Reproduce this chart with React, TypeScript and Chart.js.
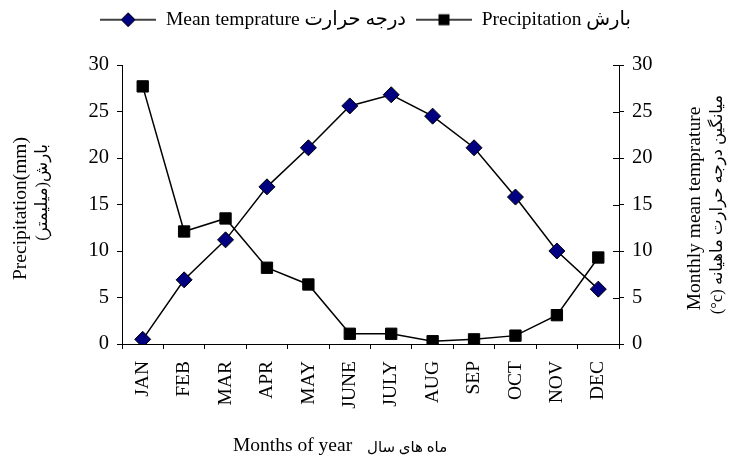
import React, { useEffect, useRef } from 'react';
import { Chart, registerables } from 'chart.js';

Chart.register(...registerables);

const months = ['JAN', 'FEB', 'MAR', 'APR', 'MAY', 'JUNE', 'JULY', 'AUG', 'SEP', 'OCT', 'NOV', 'DEC'];
const meanTemperature = [0.5, 6.9, 11.2, 16.9, 21.1, 25.6, 26.8, 24.5, 21.1, 15.8, 10.0, 5.9];
const precipitation = [27.7, 12.1, 13.5, 8.2, 6.4, 1.1, 1.1, 0.3, 0.5, 0.9, 3.1, 9.3];
const axisMin = 0;
const axisMax = 30;
const axisStep = 5;
const legendLabels = ['Mean temprature درجه حرارت', 'Precipitation بارش'];
const leftTitle = ['Precipitation(mm)', 'بارش(میلیمتر)\u200F'];
const rightTitle = ['Monthly mean temprature', '(°c) میانگین درجه حرارت ماهیانه'];
const xTitleLatin = 'Months of year';
const xTitlePersian = 'ماه های سال';

const FAMILY = "'Liberation Serif', 'Times New Roman', 'DejaVu Sans', serif";
const FSIZE = 19.5;
const PERSIAN_SIZE = 16.5;
const NAVY = '#000080';

function makeLegendMarker(kind: 'diamond' | 'square'): HTMLCanvasElement {
  const c = document.createElement('canvas');
  c.width = 56;
  c.height = 20;
  const ctx = c.getContext('2d') as CanvasRenderingContext2D;
  ctx.strokeStyle = '#000';
  ctx.lineWidth = 1.5;
  ctx.beginPath();
  ctx.moveTo(0, 10);
  ctx.lineTo(56, 10);
  ctx.stroke();
  if (kind === 'diamond') {
    ctx.beginPath();
    ctx.moveTo(28, 3);
    ctx.lineTo(35, 10);
    ctx.lineTo(28, 17);
    ctx.lineTo(21, 10);
    ctx.closePath();
    ctx.fillStyle = NAVY;
    ctx.fill();
    ctx.lineWidth = 1;
    ctx.stroke();
  } else {
    ctx.fillStyle = '#000';
    ctx.fillRect(22.5, 4.5, 11, 11);
  }
  return c;
}

function drawRotated(ctx: CanvasRenderingContext2D, text: string, x: number, y: number, size: number) {
  ctx.save();
  ctx.font = `${size}px ${FAMILY}`;
  ctx.translate(x, y);
  ctx.rotate(-Math.PI / 2);
  ctx.fillText(text, 0, 0);
  ctx.restore();
}

const extrasPlugin = {
  id: 'extras',
  beforeInit(chart: any) {
    const lg = chart.legend;
    if (lg) {
      const orig = lg.fit.bind(lg);
      lg.fit = function () {
        orig();
        this.height = 65;
      };
    }
  },
  afterDraw(chart: any) {
    const ctx: CanvasRenderingContext2D = chart.ctx;
    const area = chart.chartArea;
    const y1 = chart.scales.y1;
    ctx.save();
    // inner half of the right axis ticks
    ctx.strokeStyle = '#000';
    ctx.lineWidth = 1;
    y1.ticks.forEach((t: any) => {
      const py = Math.round(y1.getPixelForValue(t.value)) + 0.5;
      ctx.beginPath();
      ctx.moveTo(area.right - 6, py);
      ctx.lineTo(area.right, py);
      ctx.stroke();
    });
    ctx.fillStyle = '#000';
    ctx.textAlign = 'center';
    ctx.textBaseline = 'middle';
    const cy = (area.top + area.bottom) / 2;
    // left axis title (two lines)
    drawRotated(ctx, leftTitle[0], area.left - 101, cy + 4, FSIZE);
    drawRotated(ctx, leftTitle[1], area.left - 79, cy - 12, PERSIAN_SIZE);
    // right axis title (two lines)
    drawRotated(ctx, rightTitle[0], area.right + 76, cy + 4, FSIZE);
    drawRotated(ctx, rightTitle[1], area.right + 99, cy, PERSIAN_SIZE);
    // x axis title
    ctx.textAlign = 'left';
    ctx.font = `${FSIZE}px ${FAMILY}`;
    ctx.fillText(xTitleLatin, area.left + 111, 446);
    ctx.font = `15px ${FAMILY}`;
    ctx.fillText(xTitlePersian, area.left + 245, 448);
    ctx.restore();
  },
};

export default function App() {
  const ref = useRef<HTMLCanvasElement | null>(null);
  useEffect(() => {
    if (!ref.current) return;
    const font = { family: FAMILY, size: FSIZE };
    const numFont = { family: FAMILY, size: 20.5 };
    const markers = [makeLegendMarker('diamond'), makeLegendMarker('square')];
    const chart = new Chart(ref.current, {
      type: 'line',
      data: {
        labels: months,
        datasets: [
          {
            label: legendLabels[0],
            data: meanTemperature,
            yAxisID: 'y1',
            borderColor: '#000',
            borderWidth: 1.5,
            tension: 0,
            pointStyle: 'rectRot',
            pointRadius: 8,
            pointBackgroundColor: NAVY,
            pointBorderColor: '#000',
            pointBorderWidth: 1,
            fill: false,
          },
          {
            label: legendLabels[1],
            data: precipitation,
            yAxisID: 'y',
            borderColor: '#000',
            borderWidth: 1.5,
            tension: 0,
            pointStyle: 'rect',
            pointRadius: 8,
            pointBackgroundColor: '#000',
            pointBorderColor: '#000',
            pointBorderWidth: 1,
            fill: false,
          },
        ],
      },
      options: {
        animation: false,
        responsive: true,
        maintainAspectRatio: false,
        layout: { padding: 0 },
        plugins: {
          tooltip: { enabled: false },
          legend: {
            display: true,
            position: 'top',
            labels: {
              font,
              color: '#000',
              usePointStyle: true,
              pointStyleWidth: 56,
              padding: 10,
              generateLabels: (ch: any) =>
                ch.data.datasets.map((ds: any, i: number) => ({
                  text: ds.label,
                  pointStyle: markers[i],
                  datasetIndex: i,
                  hidden: false,
                  fillStyle: '#000',
                  strokeStyle: '#000',
                  lineWidth: 0,
                  fontColor: '#000',
                })),
            },
          },
        },
        scales: {
          x: {
            type: 'category',
            offset: true,
            grid: { display: true, drawOnChartArea: false, drawTicks: true, tickLength: 5, offset: true, color: '#000', lineWidth: 1 },
            border: { display: true, color: '#000', width: 1 },
            ticks: { autoSkip: false, minRotation: 90, maxRotation: 90, padding: 12, font, color: '#000' },
            afterFit: (s: any) => {
              s.height = 112;
            },
          },
          y: {
            position: 'left',
            min: axisMin,
            max: axisMax,
            ticks: { stepSize: axisStep, padding: 8, font: numFont, color: '#000' },
            grid: { display: true, drawOnChartArea: false, drawTicks: true, tickLength: 5, color: '#000', lineWidth: 1 },
            border: { display: true, color: '#000', width: 1 },
            afterFit: (s: any) => {
              s.width = 122;
            },
          },
          y1: {
            position: 'right',
            min: axisMin,
            max: axisMax,
            ticks: { stepSize: axisStep, padding: 8, font: numFont, color: '#000' },
            grid: { display: true, drawOnChartArea: false, drawTicks: true, tickLength: 5, color: '#000', lineWidth: 1 },
            border: { display: true, color: '#000', width: 1 },
            afterFit: (s: any) => {
              s.width = 112;
            },
          },
        },
      },
      plugins: [extrasPlugin],
    } as any);
    return () => chart.destroy();
  }, []);
  return (
    <div style={{ position: 'absolute', left: 0, top: 0, width: 731, height: 456, background: '#fff' }}>
      <canvas ref={ref} width={731} height={456} />
    </div>
  );
}
